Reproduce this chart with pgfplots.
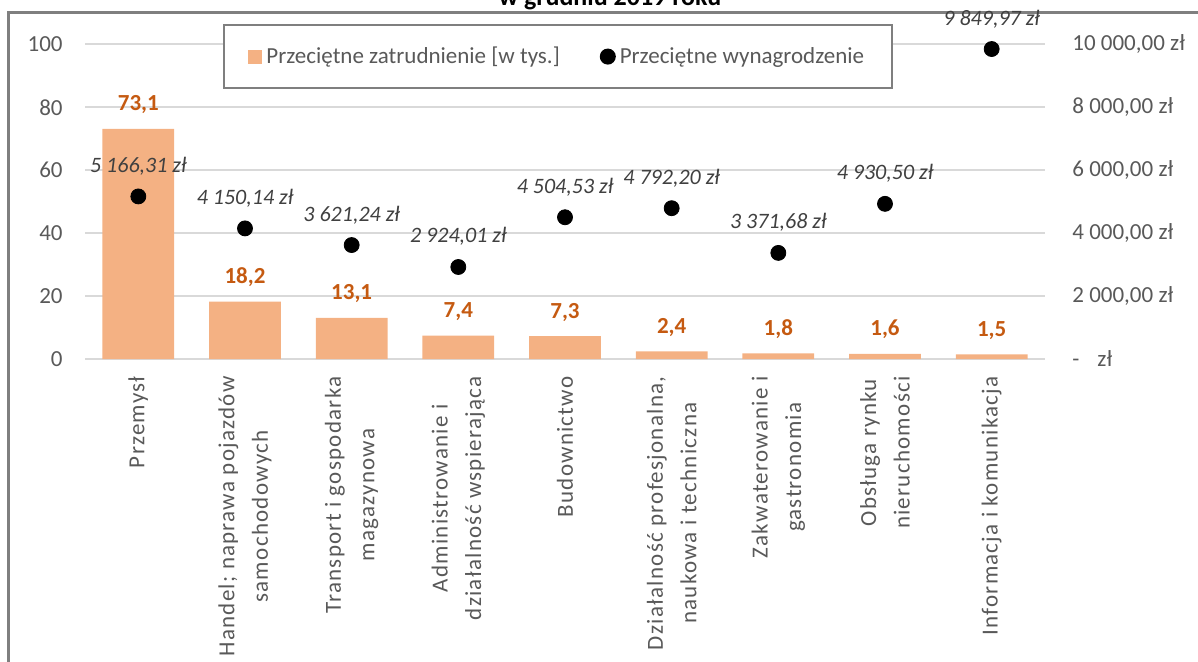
\documentclass[border=0pt]{standalone}
\usepackage{pgfplots}
\pgfplotsset{compat=1.18}
\usepackage{fontspec}
\setmainfont{Carlito}
\newfontfamily\catfont[LetterSpace=5.5]{Carlito}

\definecolor{barfill}{HTML}{F4B183}
\definecolor{barlab}{HTML}{C55A11}
\definecolor{txt}{HTML}{595959}
\definecolor{dotlab}{HTML}{404040}
\definecolor{gridc}{HTML}{D9D9D9}
\definecolor{framec}{HTML}{7F7F7F}

\pgfplotsset{/pgf/number format/assume math mode=true}

\begin{document}
\begin{tikzpicture}
\useasboundingbox (0,0) rectangle (599pt,330.5pt);
\clip (0,0) rectangle (599pt,330.5pt);
% ramka wykresu (przycięta)
\draw[framec, line width=1.2pt] (4.2pt,-20pt) -- (4.2pt,324.2pt) -- (640pt,324.2pt);
\node[anchor=base, font=\bfseries\fontsize{13}{15}\selectfont] at (305pt,327.6pt) {w grudniu 2019 roku};

% zatrudnienie (lewa oś)
\begin{axis}[
  at={(42.5pt,151pt)}, anchor=south west,
  scale only axis, width=480pt, height=157.35pt,
  xmin=-0.5, xmax=8.5, ymin=0, ymax=100,
  ytick={0,20,...,100},
  xtick={0,...,8},
  xticklabels={
    {Przemysł},
    {Handel; naprawa pojazdów\\samochodowych},
    {Transport i gospodarka\\magazynowa},
    {Administrowanie i\\działalność wspierająca},
    {Budownictwo},
    {Działalność profesjonalna,\\naukowa i techniczna},
    {Zakwaterowanie i\\gastronomia},
    {Obsługa rynku\\nieruchomości},
    {Informacja i komunikacja}},
  axis x line*=bottom, axis y line*=left,
  y axis line style={draw=none},
  x axis line style={gridc, line width=1pt, -},
  tick style={draw=none},
  ymajorgrids, grid style={gridc, line width=1pt},
  yticklabel style={font=\fontsize{11.5}{13}\selectfont, text=txt, anchor=east, inner sep=0pt, xshift=-11pt},
  xticklabel style={font=\catfont\fontsize{11.5}{16.8}\selectfont, text=txt, align=center,
    yshift=-8.5pt, rotate=90, anchor=east, inner sep=0pt},
]
\addplot[ybar, bar width=0.672, fill=barfill, draw=none,
  nodes near coords={\pgfmathprintnumber[fixed,fixed zerofill,precision=1,use comma]{\pgfplotspointmeta}},
  every node near coord/.append style={font=\bfseries\fontsize{11.5}{13}\selectfont, text=barlab,
    anchor=base, inner sep=0pt, yshift=9pt}]
  coordinates {(0,73.1) (1,18.2) (2,13.1) (3,7.4) (4,7.3) (5,2.4) (6,1.8) (7,1.6) (8,1.5)};
\end{axis}

% wynagrodzenie (prawa oś)
\begin{axis}[
  at={(42.5pt,151pt)}, anchor=south west,
  scale only axis, width=480pt, height=157.35pt,
  xmin=-0.5, xmax=8.5, ymin=0, ymax=10000,
  scaled y ticks=false,
  axis x line=none, axis y line*=right,
  y axis line style={draw=none},
  tick style={draw=none},
  ytick={0,2000,...,10000},
  yticklabels={{-\hspace{9pt}zł}, {2 000,00 zł}, {4 000,00 zł}, {6 000,00 zł}, {8 000,00 zł}, {10 000,00 zł}},
  yticklabel style={font=\fontsize{11.5}{13}\selectfont, text=txt, anchor=west, inner sep=0pt, xshift=13.5pt},
  legend columns=2,
  legend style={at={(0.493,0.961)}, anchor=center, draw=framec, line width=1pt, fill=white,
    font=\fontsize{11.5}{13}\selectfont, text=txt, inner xsep=12pt, inner ysep=9pt,
    /tikz/every even column/.append style={column sep=18pt}},
]
\addlegendimage{legend image code/.code={\fill[barfill] (0pt,-3pt) rectangle (6pt,3pt);}}
\addlegendentry{Przeciętne zatrudnienie [w tys.]}
\addplot[only marks, mark=*, mark size=3.75pt, black,
  legend image code/.code={\fill[black] (3.5pt,0pt) circle (3.5pt);},
  nodes near coords={\pgfmathprintnumber[fixed,fixed zerofill,precision=2,use comma,1000 sep={\ }]{\pgfplotspointmeta}~zł},
  every node near coord/.append style={font=\itshape\fontsize{11}{13}\selectfont, text=dotlab,
    anchor=base, inner sep=0pt, yshift=12pt}]
  coordinates {(0,5166.31) (1,4150.14) (2,3621.24) (3,2924.01) (4,4504.53) (5,4792.20) (6,3371.68) (7,4930.50) (8,9849.97)};
\addlegendentry{Przeciętne wynagrodzenie}
\end{axis}
\end{tikzpicture}
\end{document}
